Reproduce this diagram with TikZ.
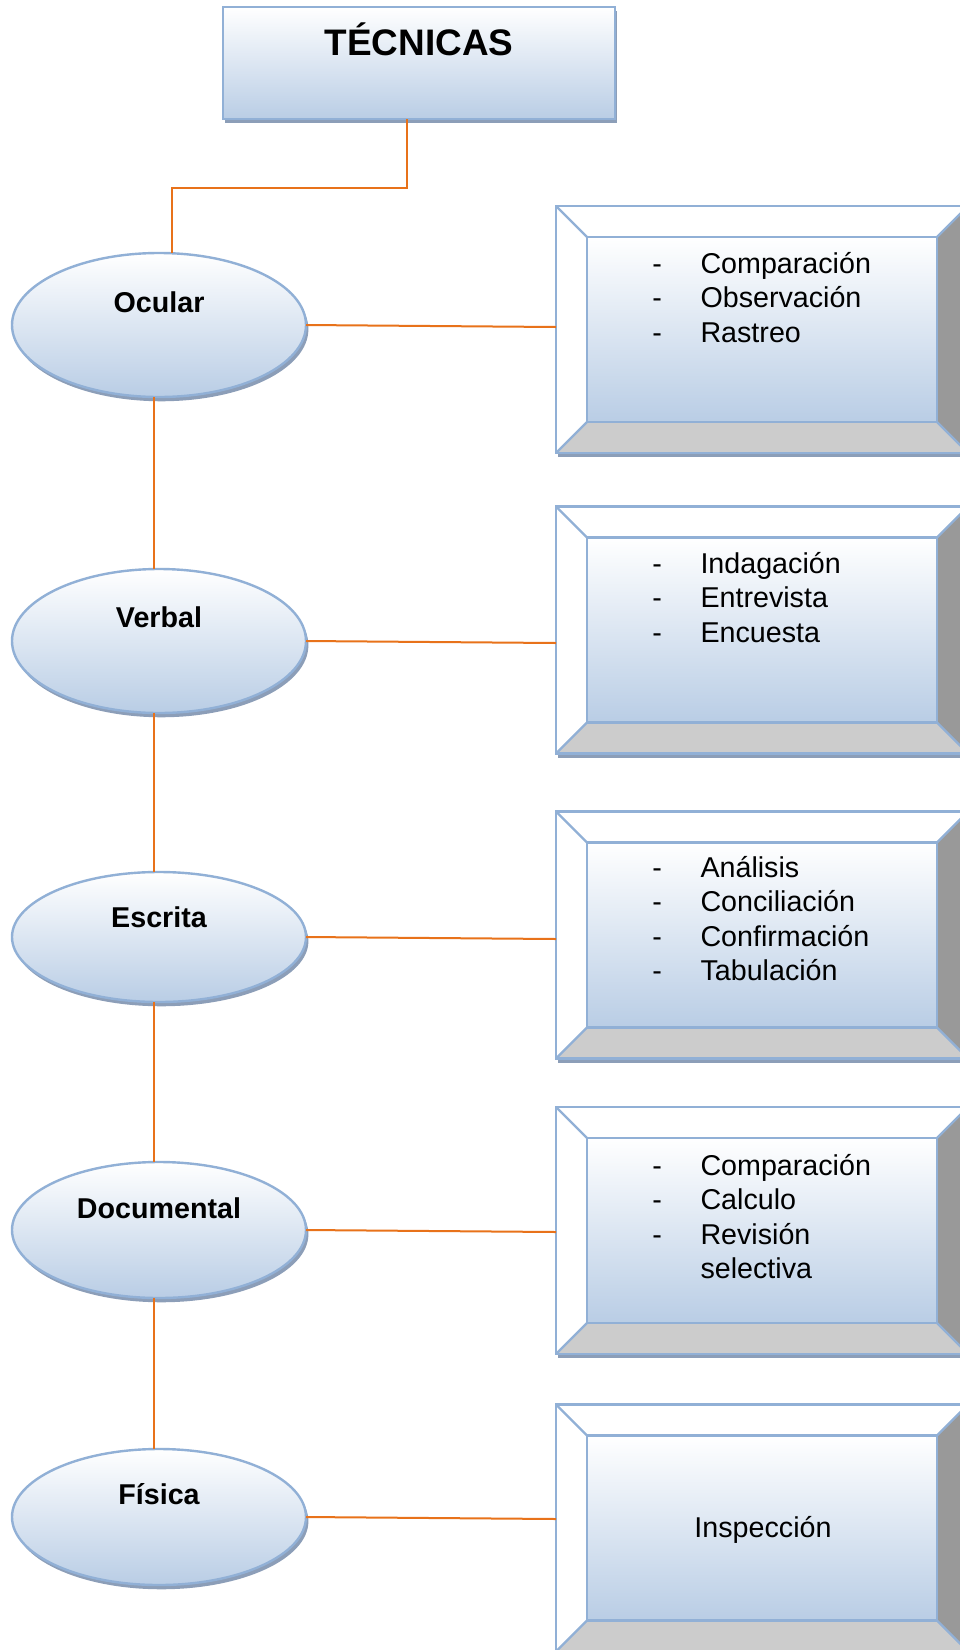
\documentclass[tikz,border=0pt]{standalone}
\usepackage{fontspec}
\setmainfont{Liberation Sans}
\usetikzlibrary{shapes.geometric,shadows,calc}

\definecolor{bordc}{RGB}{145,176,214}
\definecolor{gradtop}{RGB}{255,255,255}
\definecolor{gradbot}{RGB}{185,205,229}
\definecolor{shadc}{RGB}{140,158,184}
\definecolor{linkc}{RGB}{232,114,26}
\definecolor{bevbotc}{RGB}{204,204,204}
\definecolor{bevrightc}{RGB}{153,153,153}

\tikzset{
  softshadow/.style={drop shadow={shadow xshift=1.8pt,shadow yshift=-3.2pt,fill=shadc,opacity=1}},
  titlebox/.style={rectangle,draw=bordc,line width=1.8pt,top color=gradtop,bottom color=gradbot,
    minimum width=392*0.75pt,minimum height=112*0.75pt,inner sep=0pt,outer sep=0pt,softshadow},
  titletext/.style={anchor=base,inner sep=0pt,font=\fontsize{27.7pt}{33pt}\selectfont\bfseries},
  oval/.style={ellipse,draw=bordc,line width=1.8pt,top color=gradtop,bottom color=gradbot,
    minimum width=294*0.75pt,inner sep=0pt,outer sep=0pt,softshadow},
  ovaltext/.style={anchor=base,inner sep=0pt,font=\fontsize{21.5pt}{26pt}\selectfont\bfseries},
  outerbox/.style={rectangle,fill=white,minimum width=412*0.75pt,minimum height=247*0.75pt,
    inner sep=0pt,outer sep=0pt,softshadow},
  innerbox/.style={rectangle,draw=bordc,line width=1.8pt,top color=gradtop,bottom color=gradbot,
    minimum width=350*0.75pt,minimum height=185*0.75pt,inner sep=0pt,outer sep=0pt},
  edge/.style={draw=bordc,line width=1.8pt},
  listtext/.style={anchor=base west,inner sep=0pt,font=\fontsize{21.5pt}{25.9pt}\selectfont},
  plaintext/.style={anchor=base,inner sep=0pt,font=\fontsize{21.5pt}{25.9pt}\selectfont},
  link/.style={draw=linkc,line width=1.5pt},
}

% one list entry: a dash followed by the word
\newcommand\itm[1]{\makebox[36.2pt][l]{-}#1}

% bevelled frame: outer panel, shaded bottom and right faces, inner panel, edges
\newcommand\bevelbox[2]{%
  \node[outerbox] (b#1) at (762,#2) {};
  \fill[bevbotc] (b#1.south west) -- (b#1.south east) -- ($(b#1.south east)+(-31,-31)$)
    -- ($(b#1.south west)+(31,-31)$) -- cycle;
  \fill[bevrightc] (b#1.north east) -- (b#1.south east) -- ($(b#1.south east)+(-31,-31)$)
    -- ($(b#1.north east)+(-31,31)$) -- cycle;
  \node[innerbox] (i#1) at (b#1.center) {};
  \draw[edge] (b#1.north west) rectangle (b#1.south east);
  \draw[edge] (b#1.north west) -- (i#1.north west)
              (b#1.north east) -- (i#1.north east)
              (b#1.south west) -- (i#1.south west)
              (b#1.south east) -- (i#1.south east);
}

\begin{document}
\begin{tikzpicture}[x=0.75pt,y=-0.75pt]
  \useasboundingbox (0,0) rectangle (960,1650);
  \fill[white] (0,0) rectangle (960,1650);
  \clip (0,0) rectangle (960,1650);

  % heading
  \node[titlebox] (t) at (419,63) {};
  \node[titletext] (tt) at (419,55) {TÉCNICAS};

  % technique ovals
  \node[oval,minimum height=144*0.75pt] (e1) at (159,325) {};
  \node[oval,minimum height=144*0.75pt] (e2) at (159,641) {};
  \node[oval,minimum height=130*0.75pt] (e3) at (159,937) {};
  \node[oval,minimum height=136*0.75pt] (e4) at (159,1230) {};
  \node[oval,minimum height=136*0.75pt] (e5) at (159,1517) {};

  \node[ovaltext] (l1) at (159,312) {Ocular};
  \node[ovaltext] (l2) at (159,627) {Verbal};
  \node[ovaltext] (l3) at (159,927) {Escrita};
  \node[ovaltext] (l4) at (159,1218) {Documental};
  \node[ovaltext] (l5) at (159,1504) {Física};

  % procedure frames
  \bevelbox{1}{329.5}
  \bevelbox{2}{630}
  \bevelbox{3}{935}
  \bevelbox{4}{1230.5}
  \bevelbox{5}{1528}

  \node[listtext] (x1) at (652,273) {\begin{tabular}[t]{@{}l@{}}
    \itm{Comparación}\\ \itm{Observación}\\ \itm{Rastreo}\end{tabular}};
  \node[listtext] (x2) at (652,573) {\begin{tabular}[t]{@{}l@{}}
    \itm{Indagación}\\ \itm{Entrevista}\\ \itm{Encuesta}\end{tabular}};
  \node[listtext] (x3) at (652,877) {\begin{tabular}[t]{@{}l@{}}
    \itm{Análisis}\\ \itm{Conciliación}\\ \itm{Confirmación}\\ \itm{Tabulación}\end{tabular}};
  \node[listtext] (x4) at (652,1175) {\begin{tabular}[t]{@{}l@{}}
    \itm{Comparación}\\ \itm{Calculo}\\ \itm{Revisión}\\ \hspace*{36.2pt}selectiva\end{tabular}};
  \node[plaintext] (x5) at (763,1537) {Inspección};

  % connectors
  \draw[link] ($(t.south)+(-12,0)$) -- ++(0,69) -| ($(e1.north)+(13,0)$);
  \draw[link] ($(e1.south)+(-5,0)$) -- ($(e2.north)+(-5,0)$);
  \draw[link] ($(e2.south)+(-5,0)$) -- ($(e3.north)+(-5,0)$);
  \draw[link] ($(e3.south)+(-5,0)$) -- ($(e4.north)+(-5,0)$);
  \draw[link] ($(e4.south)+(-5,0)$) -- ($(e5.north)+(-5,0)$);

  \foreach \k in {1,...,5}{
    \coordinate (p\k) at (e\k.east -| b\k.west);
    \draw[link] (e\k.east) -- ($(p\k)+(0,2)$);
  }
\end{tikzpicture}
\end{document}
